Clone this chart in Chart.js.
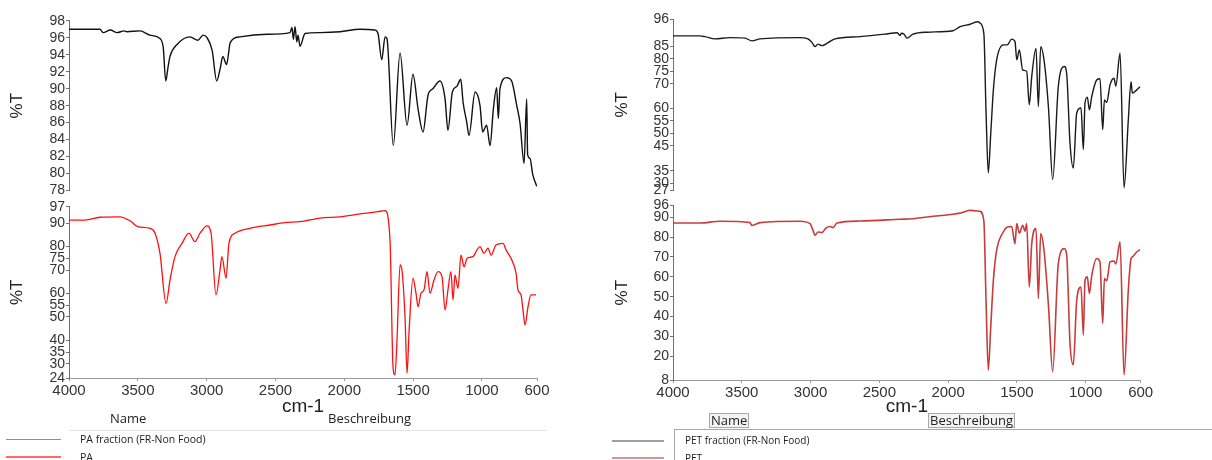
<!DOCTYPE html>
<html>
<head>
<meta charset="utf-8">
<script src="https://cdn.jsdelivr.net/npm/chart.js@4.4.1/dist/chart.umd.min.js"></script>
<style>
  body { margin: 0; width: 1212px; height: 460px; overflow: hidden; background: #fff; position: relative; font-family: 'Liberation Sans', Arial, sans-serif; }
  canvas { position: absolute; }
  .lbl { position: absolute; font-family: 'Open Sans', 'DejaVu Sans', sans-serif; color: #222; white-space: nowrap; }
  .hdr { font-size: 13px; line-height: 13px; }
  .box { border: 1px solid #a8a8a8; background: #f4f4f4; padding: 0 1px; }
  .row { font-size: 10.5px; line-height: 12px; }
  .swatch { position: absolute; }
</style>
</head>
<body>
<canvas id="paFracChart" width="560" height="200" style="left:0;top:0"></canvas>
<canvas id="paChart" width="560" height="224" style="left:0;top:196px"></canvas>
<canvas id="petFracChart" width="560" height="200" style="left:600px;top:0"></canvas>
<canvas id="petChart" width="560" height="224" style="left:600px;top:196px"></canvas>

<!-- legend table, left -->
<div style="position:absolute;left:69px;top:430px;width:478px;height:1px;background:#e4e4e4"></div>
<div class="lbl hdr" style="left:110px;top:412px">Name</div>
<div class="lbl hdr" style="left:328px;top:412px">Beschreibung</div>
<div class="swatch" style="left:6px;top:439px;width:55px;height:1px;background:#909090"></div>
<div class="lbl row" style="left:80px;top:433px">PA fraction (FR-Non Food)</div>
<div class="swatch" style="left:6px;top:456px;width:55px;height:2px;background:#ff6a6a"></div>
<div class="lbl row" style="left:80px;top:451px">PA</div>

<!-- legend table, right -->
<div style="position:absolute;left:674px;top:429px;width:540px;height:40px;border-top:1px solid #a8a8a8;border-left:1px solid #a8a8a8"></div>
<div class="lbl hdr box" style="left:709px;top:413px">Name</div>
<div class="lbl hdr box" style="left:928px;top:413px">Beschreibung</div>
<div class="swatch" style="left:612px;top:440px;width:52px;height:2px;background:#a0a0a0"></div>
<div class="lbl row" style="left:685px;top:434px;font-size:10px">PET fraction (FR-Non Food)</div>
<div class="swatch" style="left:612px;top:457px;width:52px;height:2px;background:#c49a9a"></div>
<div class="lbl row" style="left:685px;top:452px;font-size:10px">PET</div>

<script>
// wavenumber axis, shared by all four spectra
const xTicks = [4000, 3500, 3000, 2500, 2000, 1500, 1000, 600];

// PA fraction (FR-Non Food)
const paFracWn = [4000,3884,3775,3753,3700,3650,3600,3579,3484,3412,3339,3315,3297,3280,3266,3215,3121,3063,3026,2997,2960,2927,2900,2883,2855,2838,2830,2758,2562,2394,2380,2370,2358,2345,2336,2322,2285,2176,2031,1886,1777,1755,1728,1704,1690,1644,1595,1544,1501,1464,1428,1392,1356,1305,1268,1247,1215,1181,1154,1137,1111,1094,1050,1014,995,966,941,917,893,881,869,820,784,747,723,694,675,668,651,631,602];
const paFracT = [97.0,97.0,97.0,96.6,96.9,96.6,96.8,96.7,96.8,96.3,95.9,94.8,90.9,92.6,93.8,95.2,96.1,95.7,96.3,96.0,94.5,90.9,92.5,93.8,92.85,94.5,95.4,96.1,96.4,96.6,97.2,95.8,97.3,95.5,96.3,95.0,96.5,96.6,96.7,97.0,96.9,96.5,93.4,96.1,95.9,83.3,94.2,85.7,91.7,87.6,84.9,89.2,90.0,90.9,88.8,85.1,89.6,90.3,91.1,88.4,86.1,84.5,89.6,88.0,84.9,85.7,83.3,87.6,90.1,86.5,90.0,91.3,90.9,88.0,85.9,81.2,88.8,82.2,81.8,79.9,78.5];
const paFracTicks = [78,80,82,84,86,88,90,92,94,96,98];

// PA reference
const paWn = [4000,3884,3775,3629,3557,3499,3412,3375,3339,3295,3266,3230,3179,3128,3085,3048,2997,2968,2932,2903,2889,2859,2838,2794,2685,2540,2431,2322,2176,2031,1886,1755,1704,1668,1646,1632,1617,1595,1581,1559,1544,1530,1501,1479,1464,1443,1421,1399,1377,1348,1319,1290,1268,1247,1225,1210,1196,1174,1152,1130,1108,1065,1036,1014,985,956,934,898,847,825,789,752,738,716,702,687,665,644,607];
const paT = [91.3,91.3,92.5,92.7,91.0,88.5,87.8,85.7,77.1,55.8,65.8,75.7,81.4,85.7,82.1,85.7,88.8,85.7,59.4,70.0,75.7,66.5,81.4,85.7,87.8,89.2,90.2,90.6,92.1,92.7,93.9,94.9,95.3,82.8,28.8,25.3,40.2,72.2,70.0,50.1,26.0,43.2,66.5,60.1,54.4,60.1,61.5,69.3,60.1,65.8,69.3,67.2,53.0,61.5,69.3,57.2,67.9,62.2,76.4,71.4,75.0,75.7,78.6,80.0,77.1,79.3,76.4,80.7,81.4,78.6,75.0,68.6,61.5,59.4,53.0,46.6,54.4,59.4,59.4];
const paTicks = [24,30,35,40,50,55,60,70,75,80,90,97];

// PET fraction (FR-Non Food)
const petFracWn = [4000,3804,3767,3695,3586,3477,3426,3367,3077,3019,2989,2968,2946,2917,2873,2822,2641,2459,2370,2350,2340,2320,2299,2255,2153,1964,1913,1841,1783,1768,1740,1725,1708,1690,1671,1647,1599,1570,1538,1514,1501,1482,1458,1429,1410,1392,1361,1344,1327,1303,1270,1240,1199,1155,1138,1114,1090,1065,1034,1017,1005,988,973,956,920,896,876,864,847,823,794,781,750,721,690,670,661,629,605];
const petFracT = [89.2,89.2,88.9,88.0,88.5,88.3,87.2,88.0,88.5,88.0,86.5,84.9,85.9,85.3,86.5,88.0,88.9,89.9,90.5,89.3,90.3,89.9,88.3,89.9,90.7,91.3,92.9,93.9,94.9,94.4,90.0,60.0,34.1,50.0,67.5,79.6,85.6,85.6,87.9,87.0,79.6,83.6,75.5,75.0,61.5,72.9,84.2,60.8,84.9,79.6,60.0,31.4,68.8,76.9,74.0,46.1,36.1,58.2,60.2,43.5,62.2,64.6,59.5,64.8,71.5,72.0,51.5,63.5,62.5,69.5,72.2,69.0,82.2,28.1,55.5,70.8,66.2,67.5,68.8];
const petFracTicks = [27,30,35,45,50,55,60,70,75,80,85,96];

// PET reference
const petWn = [4000,3804,3658,3440,3426,3367,3077,3004,2982,2968,2946,2917,2888,2859,2837,2808,2641,2350,2255,2110,1964,1913,1841,1768,1740,1725,1708,1690,1671,1647,1599,1570,1538,1514,1501,1482,1458,1441,1429,1410,1392,1361,1344,1327,1303,1270,1240,1199,1155,1138,1114,1090,1065,1034,1017,1005,988,973,956,920,896,876,864,847,823,794,781,750,721,690,670,661,629,605];
const petT = [87.1,87.1,88.0,87.3,85.9,87.3,88.0,86.8,83.4,80.9,82.6,82.3,84.6,85.4,84.8,87.1,88.1,89.0,89.3,90.5,91.5,92.1,93.5,93.0,88.0,50.0,13.0,35.0,58.3,73.4,82.6,85.1,85.4,76.7,86.8,82.0,86.0,83.0,86.8,54.9,76.7,84.3,49.1,81.8,73.4,45.0,12.2,66.7,74.2,71.0,26.5,15.6,48.2,54.9,30.6,58.3,60.0,51.6,60.5,69.2,67.5,36.5,59.1,58.0,67.5,68.0,66.5,77.6,10.5,53.3,69.2,70.0,72.5,73.7];
const petTicks = [8,20,30,40,50,60,70,80,90,96];

const toPoints = (wn, t) => wn.map((w, i) => ({ x: w, y: t[i] }));
const fixedTicks = values => scale => { scale.ticks = values.map(v => ({ value: v })); };

function spectrum(id, o) {
  const ctx = document.getElementById(id).getContext('2d');
  return new Chart(ctx, {
    type: 'line',
    data: {
      datasets: [{
        data: toPoints(o.wn, o.t),
        borderColor: o.color,
        borderWidth: o.lineWidth,
        pointRadius: 0,
        fill: false,
        cubicInterpolationMode: 'monotone'
      }]
    },
    options: {
      responsive: false,
      animation: false,
      events: [],
      layout: { padding: o.padding },
      plugins: { legend: { display: false }, tooltip: { enabled: false } },
      scales: {
        x: {
          type: 'linear',
          reverse: true,
          min: 600,
          max: 4000,
          display: o.showX,
          afterBuildTicks: fixedTicks(xTicks),
          afterFit: s => { s.height = o.xHeight || 0; },
          ticks: { autoSkip: false, maxRotation: 0, padding: 1, color: '#333', font: { family: 'Liberation Sans', size: 15 }, callback: v => String(v) },
          title: { display: true, text: 'cm-1', color: '#222', padding: { top: 0, bottom: 2 }, font: { family: 'Liberation Sans', size: 19 } },
          grid: { drawOnChartArea: false, tickLength: 3, color: '#9a9a9a' },
          border: { color: '#9a9a9a' }
        },
        y: {
          min: o.ticks[0],
          max: o.ticks[o.ticks.length - 1],
          afterBuildTicks: fixedTicks(o.ticks),
          afterFit: s => { s.width = o.yWidth; },
          ticks: { autoSkip: false, padding: 1, color: '#333', font: { family: 'Liberation Sans', size: 14 }, callback: v => String(v) },
          title: { display: true, text: '%T', color: '#222', padding: { top: o.titlePad, bottom: 0 }, font: { family: 'Liberation Sans', size: 17 } },
          grid: { drawOnChartArea: false, tickLength: 3, color: '#707070' },
          border: { color: '#707070' }
        }
      }
    }
  });
}

spectrum('paFracChart', {
  wn: paFracWn, t: paFracT, ticks: paFracTicks, color: '#111', lineWidth: 1.4,
  showX: false, yWidth: 69, titlePad: 7,
  padding: { left: 0, right: 23, top: 20.7, bottom: 7.3 }
});
spectrum('paChart', {
  wn: paWn, t: paT, ticks: paTicks, color: '#ff1010', lineWidth: 1.3,
  showX: true, xHeight: 42, yWidth: 69, titlePad: 7,
  padding: { left: 0, right: 23, top: 10.7, bottom: 0 }
});
spectrum('petFracChart', {
  wn: petFracWn, t: petFracT, ticks: petFracTicks, color: '#1a1a1a', lineWidth: 1.4,
  showX: false, yWidth: 73, titlePad: 12,
  padding: { left: 0, right: 19.3, top: 19, bottom: 9 }
});
spectrum('petChart', {
  wn: petWn, t: petT, ticks: petTicks, color: '#c83c3c', lineWidth: 1.6,
  showX: true, xHeight: 40, yWidth: 73, titlePad: 12,
  padding: { left: 0, right: 19.3, top: 9, bottom: 0 }
});
</script>
</body>
</html>
